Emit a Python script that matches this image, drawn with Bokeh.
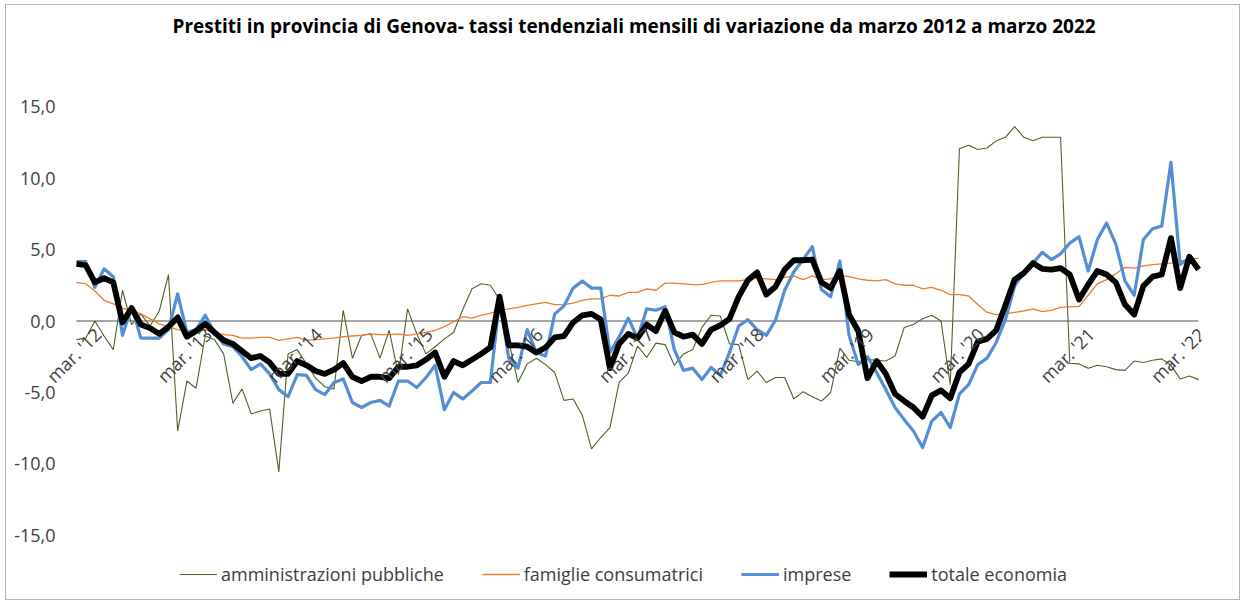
import math
import pandas as pd
from bokeh.plotting import figure
from bokeh.models import Range1d, FixedTicker, Legend, LegendItem, ColumnDataSource, LabelSet
from bokeh.core.properties import value
from bokeh.embed import file_html
from bokeh.resources import INLINE

# monthly observations, Jan 2012 - Mar 2022
months = pd.period_range("2012-01", "2022-03", freq="M")

amministrazioni_pubbliche = [
    -1.3, -1.2, 0.0, -1.05, -2.0, 2.15, -0.25, 0.5, -0.35, 0.7,
    3.25, -7.7, -4.2, -4.7, -1.05, -1.3, -2.3, -5.75, -4.75, -6.5,
    -6.3, -6.15, -10.55, -2.3, -2.0, -3.0, -4.0, -4.6, -4.75, 0.75,
    -2.6, -1.0, -0.9, -2.6, -0.65, -3.75, 0.85, -0.9, -2.3, -1.8,
    -1.25, -0.8, 0.8, 2.25, 2.6, 2.5, 1.5, -1.4, -4.3, -3.0,
    -2.6, -3.05, -3.6, -5.55, -5.45, -6.6, -8.95, -8.15, -7.45, -4.3,
    -3.65, -1.75, -2.55, -1.55, -1.65, -3.1, -2.3, -2.0, -0.45, 0.4,
    0.35, -1.6, -1.65, -4.1, -3.5, -4.3, -3.95, -3.95, -5.45, -4.95,
    -5.3, -5.6, -5.0, -1.9, -2.75, -2.85, -2.7, -2.75, -2.8, -2.45,
    -0.45, -0.25, 0.15, 0.4, 0.0, -4.45, 12.05, 12.3, 12.0, 12.1,
    12.6, 12.85, 13.6, 12.85, 12.6, 12.85, 12.85, 12.85, -2.95, -3.0,
    -3.3, -3.1, -3.2, -3.4, -3.45, -2.8, -2.9, -2.75, -2.65, -3.1,
    -4.05, -3.85, -4.1,
]

famiglie_consumatrici = [
    2.7, 2.6, 2.1, 1.45, 1.2, 0.9, 0.7, 0.5, 0.15, -0.2,
    -0.4, -0.6, -0.7, -0.75, -0.6, -0.85, -0.95, -1.0, -1.2, -1.2,
    -1.15, -1.15, -1.35, -1.25, -1.15, -1.35, -1.3, -1.25, -1.2, -1.1,
    -1.05, -1.0, -0.9, -0.95, -0.95, -0.9, -1.0, -0.9, -0.8, -0.65,
    -0.4, -0.05, 0.3, 0.2, 0.4, 0.55, 0.75, 0.85, 0.95, 1.1,
    1.2, 1.3, 1.15, 1.15, 1.25, 1.45, 1.55, 1.55, 1.8, 1.75,
    2.0, 2.0, 2.25, 2.15, 2.65, 2.65, 2.6, 2.55, 2.55, 2.7,
    2.8, 2.8, 2.8, 2.9, 3.0, 2.95, 2.9, 3.05, 3.15, 2.9,
    3.15, 2.9, 2.95, 3.2, 3.1, 2.95, 2.85, 2.8, 2.9, 2.6,
    2.5, 2.5, 2.25, 2.35, 2.15, 1.85, 1.85, 1.75, 1.15, 0.6,
    0.45, 0.5, 0.6, 0.7, 0.85, 0.65, 0.75, 0.95, 1.0, 1.0,
    1.8, 2.6, 2.9, 3.3, 3.75, 3.7, 3.85, 3.95, 4.0, 4.05,
    4.2, 4.3, 4.4,
]

imprese = [
    4.15, 4.15, 2.35, 3.65, 3.1, -1.0, 1.0, -1.2, -1.2, -1.2,
    -0.6, 1.9, -0.8, -0.6, 0.4, -0.8, -1.6, -1.8, -2.5, -3.4,
    -3.0, -3.7, -4.8, -5.3, -3.75, -3.8, -4.8, -5.15, -4.3, -4.05,
    -5.7, -6.05, -5.7, -5.55, -5.95, -4.2, -4.2, -4.65, -3.95, -3.1,
    -6.2, -5.0, -5.45, -4.9, -4.3, -4.3, 1.5, -2.6, -3.3, -0.6,
    -2.2, -2.45, 0.5, 1.05, 2.3, 2.8, 2.3, 2.3, -2.2, -1.1,
    0.2, -1.2, 0.85, 0.75, 1.0, -2.0, -3.45, -3.3, -4.1, -3.25,
    -3.8, -2.2, -0.35, 0.1, -0.6, -1.0, 0.05, 2.15, 3.45, 4.3,
    5.2, 2.2, 1.7, 4.2, -1.0, -3.05, -2.5, -3.6, -4.8, -6.05,
    -6.9, -7.7, -8.85, -7.0, -6.4, -7.45, -5.1, -4.45, -3.05, -2.6,
    -1.5, 0.1, 2.45, 3.35, 4.05, 4.8, 4.3, 4.7, 5.45, 5.9,
    3.5, 5.7, 6.85, 5.4, 2.8, 1.8, 5.7, 6.45, 6.65, 11.1,
    3.95, 4.4, 3.75,
]

totale_economia = [
    4.0, 3.9, 2.7, 3.0, 2.7, -0.1, 0.9, -0.25, -0.5, -0.9,
    -0.4, 0.25, -1.1, -0.7, -0.2, -0.8, -1.35, -1.6, -2.1, -2.6,
    -2.45, -2.9, -3.7, -3.7, -2.8, -3.1, -3.5, -3.7, -3.4, -2.95,
    -3.9, -4.2, -3.9, -3.9, -4.0, -3.2, -3.2, -3.1, -2.7, -2.2,
    -3.9, -2.8, -3.1, -2.7, -2.3, -1.85, 1.7, -1.7, -1.7, -1.8,
    -2.2, -1.85, -1.15, -1.05, -0.1, 0.4, 0.5, 0.1, -3.3, -1.6,
    -0.9, -1.2, -0.25, -0.7, 0.7, -0.8, -1.1, -0.95, -1.6, -0.6,
    -0.3, 0.15, 1.7, 2.85, 3.4, 1.85, 2.4, 3.6, 4.25, 4.25,
    4.3, 2.7, 2.3, 3.5, 0.45, -0.7, -4.0, -2.8, -3.7, -5.1,
    -5.6, -6.05, -6.7, -5.2, -4.85, -5.4, -3.6, -3.0, -1.45, -1.25,
    -0.65, 1.1, 2.9, 3.35, 4.05, 3.65, 3.6, 3.7, 3.25, 1.5,
    2.55, 3.5, 3.25, 2.7, 1.15, 0.45, 2.45, 3.1, 3.25, 5.8,
    2.3, 4.5, 3.6,
]

y_ticks = [-15, -10, -5, 0, 5, 10, 15]
y_tick_labels = ["-15,0", "-10,0", "-5,0", "0,0", "5,0", "10,0", "15,0"]

x = list(range(len(months)))
tick_idx = [i for i, m in enumerate(months) if m.month == 3]
tick_labels = ["mar. '%02d" % (m.year % 100) for m in months if m.month == 3]

FONT = "Open Sans"

# frame spans page x 45..1201, y 43..590 ; index 0 sits at page x 76
p = figure(
    width=1233, height=594,
    x_range=Range1d(-3.37, 122.32),
    y_range=Range1d(-18.85, 19.41),
    output_backend="svg", toolbar_location=None,
    x_axis_location=None,
    min_border_left=39, min_border_right=38,
    min_border_top=38, min_border_bottom=9,
    title="Prestiti in provincia di Genova- tassi tendenziali mensili di variazione da marzo 2012 a marzo 2022",
)
p.styles = {"margin-left": "6px", "margin-top": "5px",
            "box-shadow": "0 0 0 1px #b4b4b4"}
p.outline_line_color = None
p.grid.visible = False
p.background_fill_color = "white"
p.border_fill_color = "white"

p.title.align = "left"
p.title.offset = 127
p.title.text_font = FONT
p.title.text_font_style = "bold"
p.title.text_font_size = "19px"
p.title.text_color = "#000000"
p.title.standoff = 10

yax = p.yaxis[0]
yax.ticker = FixedTicker(ticks=y_ticks)
yax.major_label_overrides = {t: l for t, l in zip(y_ticks, y_tick_labels)}
yax.axis_line_color = None
yax.major_tick_line_color = None
yax.minor_tick_line_color = None
yax.major_tick_in = 0
yax.major_tick_out = 0
yax.major_label_standoff = -10
yax.major_label_text_font = FONT
yax.major_label_text_font_size = "18px"
yax.major_label_text_color = "#404040"

# category axis line crossing at 0
p.line(x, [0] * len(x), line_color="#898989", line_width=1.6, level="underlay")

r_amm = p.line(x, amministrazioni_pubbliche, line_color="#4F6228", line_width=1.1)
r_fam = p.line(x, famiglie_consumatrici, line_color="#F07B2A", line_width=1.3)
r_imp = p.line(x, imprese, line_color="#558ED5", line_width=3.2, line_join="round")
r_tot = p.line(x, totale_economia, line_color="#000000", line_width=5.8, line_join="round")

src = ColumnDataSource(dict(x=tick_idx, y=[0] * len(tick_idx), t=tick_labels))
labels = LabelSet(x="x", y="y", text="t", source=src, angle=math.pi / 4,
                  text_align="right", text_baseline="middle", x_offset=3, y_offset=-10,
                  text_font=value(FONT), text_font_size=value("18px"),
                  text_color="#404040")
p.add_layout(labels)

legend = Legend(
    items=[
        LegendItem(label="amministrazioni pubbliche", renderers=[r_amm]),
        LegendItem(label="famiglie consumatrici", renderers=[r_fam]),
        LegendItem(label="imprese", renderers=[r_imp]),
        LegendItem(label="totale economia", renderers=[r_tot]),
    ],
    orientation="horizontal", location=(134, 4),
    label_text_font=FONT, label_text_font_size="18px", label_text_color="#404040",
    glyph_width=38, glyph_height=16, spacing=38, label_standoff=4,
    border_line_color=None, background_fill_alpha=0, margin=0, padding=4,
)
p.add_layout(legend)

open("out.html", "w").write(file_html(p, INLINE))
